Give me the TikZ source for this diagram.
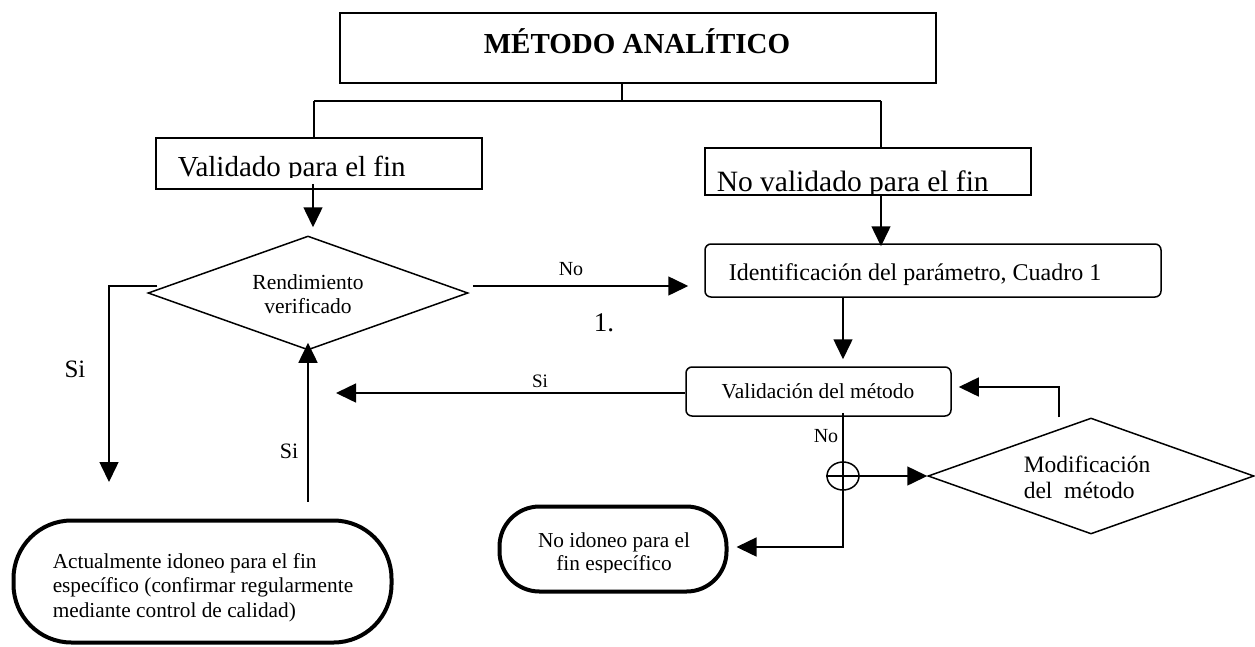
\documentclass[tikz,border=0pt]{standalone}
\usepackage{fontspec}
\setmainfont{Liberation Serif}
\usetikzlibrary{arrows.meta,shapes.geometric,calc}
\newcommand{\fsz}[2]{\fontsize{#1}{#2}\selectfont}
\begin{document}
\begin{tikzpicture}[x=1pt,y=-1pt,line width=1.5pt,
  arr/.style={-{Triangle[length=20pt,width=19pt]}},
  boxr/.style={draw,rectangle,inner sep=0pt},
  boxround/.style={draw,rectangle,rounded corners=6pt,inner sep=0pt},
  terminal/.style={draw,rectangle,line width=4pt,inner sep=0pt},
  decision/.style={draw,diamond,aspect=2.8,inner sep=0pt},
  joint/.style={draw,ellipse,inner sep=0pt,minimum width=32pt,minimum height=28pt},
  txt/.style={anchor=base,inner sep=0pt},
  txtl/.style={anchor=base west,inner sep=0pt},
]
\useasboundingbox (0,0) rectangle (1255,646);

% ---------- boxes ----------
\node[boxr,minimum width=596pt,minimum height=70pt] (title) at (638,48) {};
\node[txt] (titletext) at (637,53) {\fsz{29}{32}\bfseries MÉTODO ANALÍTICO};

\node[boxr,minimum width=326pt,minimum height=51pt] (valid) at (319,163.5) {};
\begin{scope}
  \clip (156,138) rectangle (482,177.5);
  \node[txtl] (validtext) at (177,176) {\fsz{29}{32}Validado para el fin};
\end{scope}

\node[boxr,minimum width=326pt,minimum height=47pt] (novalid) at (868,171.5) {};
\begin{scope}
  \clip (705,148) rectangle (1031,194.5);
  \node[txtl] (novalidtext) at (716,191) {\fsz{29.5}{32}No validado para el fin};
\end{scope}

\node[boxround,minimum width=456pt,minimum height=53pt] (ident) at (933,270.5) {};
\node[txtl] (identtext) at (728,280) {\fsz{24}{28}Identificación del parámetro, Cuadro 1};

\node[boxround,minimum width=265pt,minimum height=49pt] (valm) at (818.5,391.5) {};
\node[txt] (valmtext) at (818,398) {\fsz{21.4}{25}Validación del método};

\node[decision,minimum width=320pt,minimum height=114pt] (d1) at (308,293) {};
\node[txt] (d1a) at (308,289) {\fsz{21.5}{25}Rendimiento};
\node[txt] (d1b) at (308,313) {\fsz{21.5}{25}verificado};

\node[decision,minimum width=326pt,minimum height=116pt] (d2) at (1091,476) {};
\node[txtl] (d2a) at (1023,472) {\fsz{23.5}{27}Modificación};
\begin{scope}
  \clip (927,418) rectangle (1255,500);
  \node[txtl] (d2b) at (1023,498) {\fsz{23.5}{27}del\ \ método};
\end{scope}

\node[terminal,rounded corners=58pt,minimum width=378pt,minimum height=122pt] (term1) at (202.5,581.5) {};
\node[txtl] (t1a) at (52,568) {\fsz{21.3}{24}Actualmente idoneo para el fin};
\node[txtl] (t1b) at (52,592) {\fsz{21.3}{24}específico (confirmar regularmente};
\node[txtl] (t1c) at (52,617) {\fsz{21.3}{24}mediante control de calidad)};

\node[terminal,rounded corners=40pt,minimum width=227pt,minimum height=85pt] (term2) at (613,549) {};
\node[txt] (t2a) at (614,547) {\fsz{21.3}{24}No idoneo para el};
\begin{scope}
  \clip (498,550) rectangle (728,572);
  \node[txt] (t2b) at (614,570) {\fsz{21.3}{24}fin específico};
\end{scope}

\node[joint] (circ) at (843,476) {};

% ---------- labels ----------
\node[txt] (lNo1) at (571,275) {\fsz{20}{24}No};
\node[txt] (lOne) at (604,331) {\fsz{27}{30}1.};
\node[txt] (lSiBig) at (75,377) {\fsz{25}{29}Si};
\node[txt] (lSiH) at (540,387) {\fsz{19}{22}Si};
\node[txt] (lSiV) at (289,458) {\fsz{22}{26}Si};
\node[txt] (lNo2) at (826,442) {\fsz{20}{24}No};

% ---------- connectors ----------
\coordinate (split) at (622,101);
\coordinate (jl) at (314,101);
\coordinate (jr) at (881,101);
\coordinate (siL) at (109,482);
\coordinate (siTip) at (336,393);

\draw (title.south -| split) -- (split);
\draw (jl) -- (jr);
\draw (jl) -- (jl |- valid.north);
\draw (jr) -- (jr |- novalid.north);

\draw[arr] ($(valid.south -| d1.north)+(5,-6)$) -- ($(d1.north)+(5,-8)$);
\draw[arr] ($(d1.west)+(10,-7)$) -| (siL);
\draw[arr] ($(d1.east)+(4,-7)$) -- ($(ident.west |- d1.east)+(-16,-7)$);
\draw[arr] (jr |- novalid.south) -- ($(jr |- ident.north)+(0,3)$);
\draw[arr] (ident.south -| circ) -- ($(valm.north -| circ)+(0,-7)$);
\draw[arr] ($(valm.west)+(0,1.5)$) -- (siTip |- {$(valm.west)+(0,1.5)$});
\draw[arr] ($(d1.south)+(0,151)$) -- ($(d1.south)+(0,-8)$);
\draw[arr] ($(valm.south -| circ)+(0,-4)$) |- ($(term2.east)+(8,-2)$);
\draw[arr] (circ.west) -- (d2.west);
\draw[arr] ($(d2.north)+(-32,0)$) |- ($(valm.east)+(7,-4.5)$);
\end{tikzpicture}
\end{document}
